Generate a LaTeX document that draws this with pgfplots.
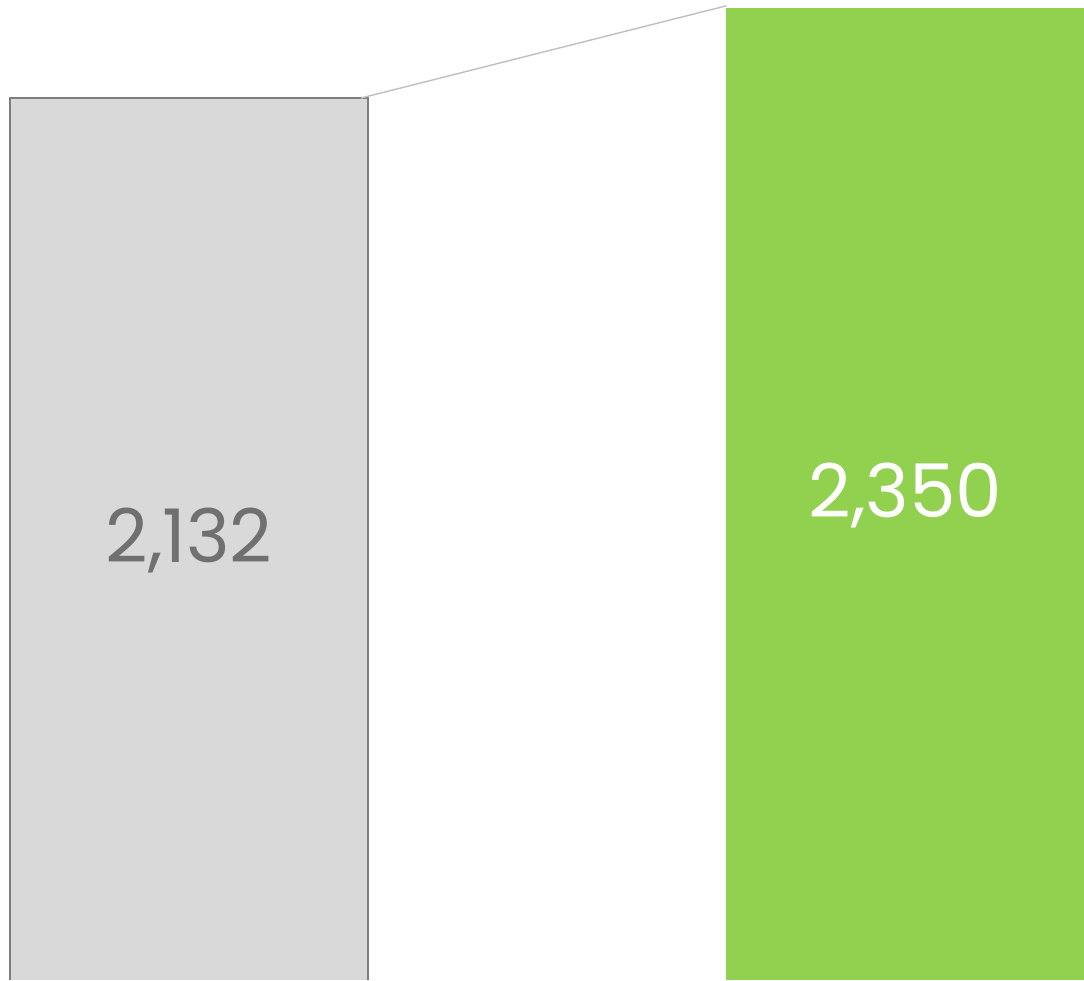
\documentclass[border=0pt]{standalone}
\usepackage{pgfplots}
\pgfplotsset{compat=1.18}
\usepackage{fontspec}
\setmainfont{Poppins}
\definecolor{barGrey}{HTML}{D9D9D9}
\definecolor{barEdge}{HTML}{7F7F7F}
\definecolor{barGreen}{HTML}{92D050}
\definecolor{txtGrey}{HTML}{707070}
\definecolor{lineGrey}{HTML}{BFBFBF}
\begin{document}
\begin{tikzpicture}
\begin{axis}[
  width=542pt, height=490pt, scale only axis,
  hide axis, clip=true,
  xmin=-0.2638, xmax=1.2491,
  ymin=0, ymax=2369,
  ybar, bar width=0.5, bar shift=0pt,
]
\addplot[fill=barGrey, draw=none] coordinates {(0,2132)};
\addplot[fill=barGreen, draw=none] coordinates {(1,2350)};
\addplot[sharp plot, barEdge, line width=0.8pt, line cap=butt] coordinates {(-0.25,0) (-0.25,2132) (0.25,2132) (0.25,0)};
\addplot[sharp plot, lineGrey, line width=0.7pt] coordinates {(0.24,2132) (0.75,2355)};
\addplot[only marks, mark=none, nodes near coords, point meta=explicit symbolic,
  every node near coord/.append style={anchor=center, text=txtGrey, font=\fontsize{37}{44}\selectfont}]
  coordinates {(0,1063)[2,132]};
\addplot[only marks, mark=none, nodes near coords, point meta=explicit symbolic,
  every node near coord/.append style={anchor=center, text=white, font=\fontsize{37}{44}\selectfont}]
  coordinates {(1,1172)[2,350]};
\end{axis}
\pgfresetboundingbox
\path (current axis.south west) rectangle (current axis.north east);
\end{tikzpicture}
\end{document}
